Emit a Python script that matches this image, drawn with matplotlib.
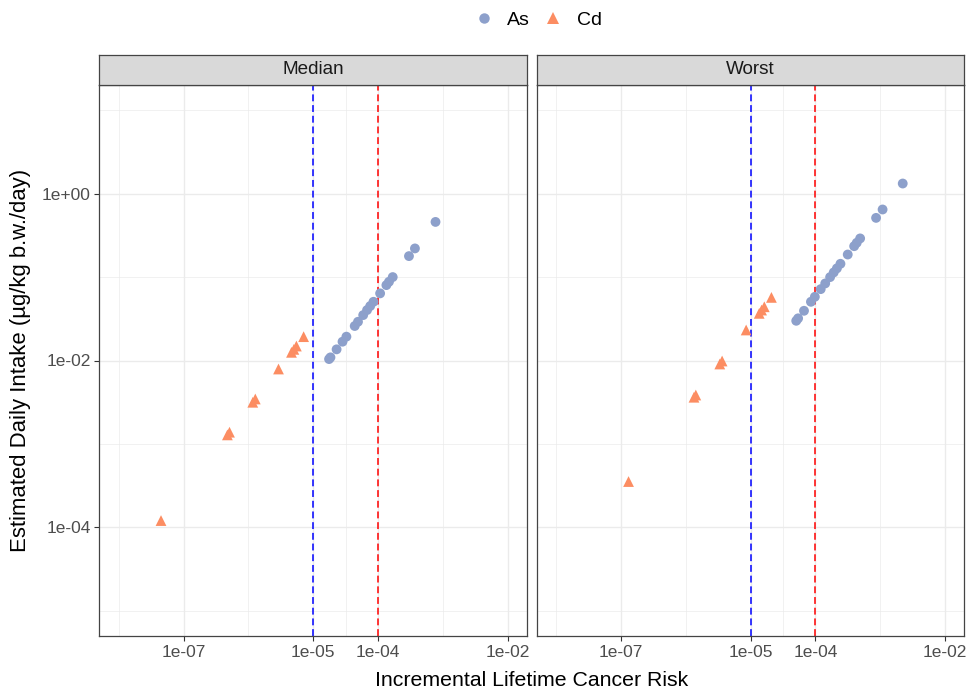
import matplotlib
matplotlib.use("Agg")
import matplotlib.pyplot as plt
from matplotlib.lines import Line2D

plt.rcParams["font.family"] = ["Liberation Sans", "DejaVu Sans"]

panels = ["Median", "Worst"]
metals = ["As", "Cd"]
metal_colors = {"As": "#8DA0CB", "Cd": "#FC8D62"}
metal_markers = {"As": "o", "Cd": "^"}

# Median scenario
median_as_ilcr = [7.73e-4, 3.72e-4, 3.01e-4, 1.69e-4, 1.48e-4, 1.35e-4, 1.08e-4, 8.53e-5, 7.59e-5,
                  6.79e-5, 5.92e-5, 4.92e-5, 4.38e-5, 3.26e-5, 2.84e-5, 2.30e-5, 1.85e-5, 1.76e-5]
median_as_edi = [0.457, 0.220, 0.178, 0.0998, 0.0877, 0.080, 0.0637, 0.0505, 0.0449,
                 0.0402, 0.0350, 0.0291, 0.0259, 0.0193, 0.0168, 0.0136, 0.0109, 0.0104]
median_cd_ilcr = [7.13e-6, 5.51e-6, 5.04e-6, 4.63e-6, 2.92e-6, 1.28e-6, 1.17e-6, 5.12e-7, 4.75e-7, 4.49e-8]
median_cd_edi = [0.0193, 0.0149, 0.0136, 0.01253, 0.00791, 0.00346, 0.00316, 0.001384, 0.001285, 1.21e-4]

# Worst scenario
worst_as_ilcr = [2.23e-3, 1.09e-3, 8.65e-4, 4.91e-4, 4.35e-4, 3.97e-4, 3.16e-4, 2.44e-4, 2.15e-4,
                 1.92e-4, 1.69e-4, 1.42e-4, 1.21e-4, 9.82e-5, 8.55e-5, 6.68e-5, 5.42e-5, 5.07e-5]
worst_as_edi = [1.318, 0.644, 0.511, 0.290, 0.257, 0.234, 0.186, 0.144, 0.127,
                0.1135, 0.0998, 0.0838, 0.0716, 0.0579, 0.0505, 0.0394, 0.0320, 0.0299]
worst_cd_ilcr = [2.10e-5, 1.63e-5, 1.48e-5, 1.36e-5, 8.55e-6, 3.64e-6, 3.35e-6, 1.43e-6, 1.34e-6, 1.31e-7]
worst_cd_edi = [0.0570, 0.0440, 0.0402, 0.0367, 0.0232, 0.00986, 0.00908, 0.00386, 0.00363, 3.55e-4]

thresholds = [1e-5, 1e-4]
threshold_colors = ["#0000FF", "#FF0000"]

x_major = [1e-7, 1e-5, 1e-4, 1e-2]
x_major_labels = ["1e-07", "1e-05", "1e-04", "1e-02"]
x_minor = [1e-8, 1e-6, 10 ** -4.5, 1e-3]
y_major = [1e-4, 1e-2, 1e0]
y_major_labels = ["1e-04", "1e-02", "1e+00"]
y_minor = [1e-5, 1e-3, 1e-1, 1e1]

panel_data = {
    "Median": {"As": (median_as_ilcr, median_as_edi), "Cd": (median_cd_ilcr, median_cd_edi)},
    "Worst": {"As": (worst_as_ilcr, worst_as_edi), "Cd": (worst_cd_ilcr, worst_cd_edi)},
}

W, H = 971, 691
fig = plt.figure(figsize=(W / 100, H / 100), dpi=100)

panel_lefts = [99.3, 536.7]
panel_width = 427.7
panel_top, panel_bottom = 85, 636
strip_top = 55

for i, name in enumerate(panels):
    left = panel_lefts[i]
    ax = fig.add_axes([left / W, (H - panel_bottom) / H, panel_width / W, (panel_bottom - panel_top) / H])
    ax.set_xscale("log")
    ax.set_yscale("log")
    ax.set_xlim(10 ** -8.3, 10 ** -1.7)
    ax.set_ylim(10 ** -5.3, 10 ** 1.3)

    ax.set_xticks(x_major)
    ax.set_xticklabels(x_major_labels)
    ax.set_xticks(x_minor, minor=True)
    ax.set_yticks(y_major)
    ax.set_yticks(y_minor, minor=True)
    ax.xaxis.set_minor_formatter(plt.NullFormatter())
    ax.yaxis.set_minor_formatter(plt.NullFormatter())

    ax.grid(True, which="major", color="#EBEBEB", linewidth=1.0)
    ax.grid(True, which="minor", color="#EBEBEB", linewidth=0.5)
    ax.set_axisbelow(True)
    ax.tick_params(which="major", length=3.8, width=0.8, color="#333333",
                   labelcolor="#4D4D4D", labelsize=12.5, pad=2.5)
    ax.tick_params(which="minor", length=0)
    if i == 0:
        ax.set_yticklabels(y_major_labels)
    else:
        ax.set_yticklabels([])
        ax.tick_params(axis="y", which="major", length=0)
    for sp in ax.spines.values():
        sp.set_color("#444444")
        sp.set_linewidth(0.9)

    for xv, c in zip(thresholds, threshold_colors):
        ax.axvline(xv, color=c, linewidth=1.1, linestyle=(0, (4.5, 2.5)), zorder=2)

    for metal in metals:
        xs, ys = panel_data[name][metal]
        ax.scatter(xs, ys, s=50 if metal == "As" else 60, marker=metal_markers[metal],
                   color=metal_colors[metal], edgecolors="none", zorder=3)

    strip = fig.add_axes([left / W, (H - panel_top) / H, panel_width / W, (panel_top - strip_top) / H])
    strip.set_facecolor("#D9D9D9")
    strip.set_xticks([])
    strip.set_yticks([])
    for sp in strip.spines.values():
        sp.set_color("#444444")
        sp.set_linewidth(0.9)
    strip.text(0.5, 0.5, name, ha="center", va="center", fontsize=13.6, color="#1A1A1A",
               transform=strip.transAxes)

fig.text(0.5477, 1 - 680 / H, "Incremental Lifetime Cancer Risk", ha="center", va="center",
         fontsize=15.3, color="black")
fig.text(21 / W, 1 - 360.5 / H, "Estimated Daily Intake (µg/kg b.w./day)", ha="center", va="center",
         rotation=90, fontsize=15.9, color="black")

handles = [Line2D([], [], linestyle="none", marker=metal_markers[m], color=metal_colors[m],
                  markersize=7.5 if m == "As" else 8.5, markeredgewidth=0) for m in metals]
fig.legend(handles, metals, loc="center", bbox_to_anchor=(537 / W, 1 - 20 / H), ncol=2,
           frameon=False, fontsize=14, handletextpad=0.6, columnspacing=0.6, handlelength=1.2)

fig.savefig("out.png", dpi=100)
